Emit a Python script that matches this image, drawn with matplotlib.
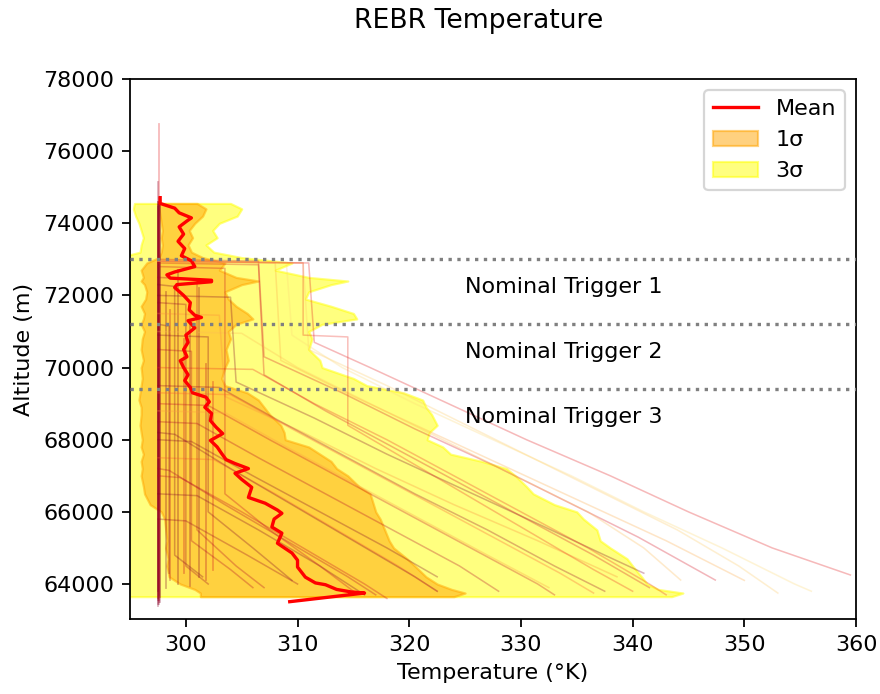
import numpy as np
import matplotlib
matplotlib.use("Agg")
import matplotlib.pyplot as plt

# ---------------- data ----------------
# Mean temperature profile
MEAN_ALT = [74710, 74550, 74420, 74290, 74150, 74064, 73900, 73700, 73500, 73300, 73100,
            72960, 72800, 72650, 72570, 72480, 72420, 72380, 72300, 72220, 72000, 71800,
            71600, 71450, 71390, 71300, 71100, 70900, 70700, 70500, 70300, 70190, 70000,
            69800, 69640, 69450, 69300, 69180, 69050, 68900, 68730, 68530, 68350, 68170,
            67980, 67800, 67620, 67450, 67340, 67200, 67070, 66900, 66680, 66400, 66240,
            66050, 65960, 65800, 65580, 65410, 65130, 64860, 64660, 64470, 64190, 64030,
            63980, 63850, 63780, 63750, 63510]
MEAN_T = [297.7, 297.7, 299.0, 299.4, 300.5, 300.1, 299.4, 299.8, 299.3, 299.9, 299.6,
          300.5, 300.8, 299.0, 298.3, 298.6, 302.3, 302.3, 299.2, 299.0, 299.8, 300.4,
          300.3, 300.8, 301.4, 300.2, 300.8, 300.0, 300.2, 299.8, 300.1, 299.5, 299.8,
          300.2, 299.9, 300.4, 300.6, 301.8, 302.1, 301.7, 302.3, 302.2, 302.7, 303.3,
          302.2, 302.8, 303.2, 303.6, 304.4, 305.6, 304.4, 305.0, 305.9, 305.6, 307.1,
          308.2, 308.6, 307.9, 307.7, 308.6, 308.2, 309.5, 310.0, 310.0, 310.7, 311.6,
          312.5, 313.5, 314.8, 316.0, 309.3]

# 1-sigma and 3-sigma envelopes
BAND_ALT = [74550, 74400, 74200, 74000, 73800, 73600, 73400, 73200, 73050, 72900,
            72700, 72500, 72400, 72300, 72100, 71900, 71700, 71500, 71350, 71200,
            71000, 70800, 70500, 70200, 70000, 69700, 69500, 69300, 69100, 68900,
            68700, 68400, 68200, 68000, 67800, 67600, 67400, 67200, 67000, 66700,
            66500, 66200, 66000, 65800, 65500, 65200, 65000, 64700, 64500, 64200,
            64000, 63850, 63750, 63650]
S1_LO = [297.6, 297.6, 297.7, 297.8, 297.9, 297.8, 297.9, 297.8, 297.6, 296.5,
         296.0, 296.2, 296.0, 296.3, 296.5, 296.4, 296.0, 296.3, 296.2, 296.0,
         296.3, 296.1, 296.0, 296.2, 296.0, 296.1, 296.0, 295.9, 295.8, 296.0,
         296.0, 295.9, 296.0, 296.1, 296.0, 296.2, 296.0, 296.1, 296.0, 296.2,
         296.3, 296.8, 297.8, 298.1, 298.2, 298.3, 298.2, 298.4, 298.3, 298.5,
         299.5, 300.8, 301.3, 301.3]
S1_HI = [301.0, 301.8, 301.5, 300.8, 300.3, 300.6, 300.2, 300.5, 301.5, 303.5,
         303.0, 304.5, 306.5, 305.0, 303.5, 303.8, 304.5, 305.5, 306.0, 304.5,
         303.8, 304.0, 303.6, 303.8, 303.5, 303.2, 303.5, 305.5, 306.5, 307.0,
         307.5, 308.5, 308.8, 308.9, 311.0, 312.0, 313.0, 313.5, 314.5, 315.5,
         316.5, 316.8, 317.0, 317.4, 317.8, 318.2, 318.6, 319.8, 320.5, 321.5,
         322.5, 323.8, 325.0, 324.0]
S3_LO = [295.4, 295.3, 295.5, 295.8, 296.0, 296.2, 296.0, 295.9, 294.0, 294.0,
         294.0, 294.0, 294.0, 294.0, 294.0, 294.0, 294.0, 294.0, 294.0, 294.0,
         294.0, 294.0, 294.0, 294.0, 294.0, 294.0, 294.0, 294.0, 294.0, 294.0,
         294.0, 294.0, 294.0, 294.0, 294.0, 294.0, 294.0, 294.0, 294.0, 294.0,
         294.0, 294.0, 294.0, 294.0, 294.0, 294.0, 294.0, 294.0, 294.0, 294.0,
         294.0, 294.0, 294.0, 294.0]
S3_HI = [304.0, 305.0, 304.6, 303.0, 302.4, 302.8, 301.8, 302.5, 305.0, 309.5,
         308.0, 311.0, 314.5, 313.0, 311.0, 310.7, 313.0, 315.0, 315.3, 312.2,
         311.0, 311.3, 311.0, 312.0, 312.2, 315.0, 316.2, 319.5, 321.2, 321.5,
         322.0, 322.5, 321.8, 321.6, 323.0, 323.7, 326.5, 328.7, 329.5, 330.5,
         331.1, 333.0, 335.0, 335.6, 336.8, 337.1, 338.0, 339.5, 340.0, 340.8,
         341.3, 342.3, 344.5, 343.5]

# Runs that never heat up (vertical traces)
CONST_T = [297.5, 297.6, 297.5, 297.7, 297.6, 297.5, 297.6, 297.5, 297.6, 297.7,
           297.5, 297.6, 298.2, 298.6, 299.3, 299.8, 300.4, 301.2, 301.8, 302.4]
CONST_TOP = [74600, 74550, 74500, 74650, 76750, 75150, 74600, 74450, 74700, 74500,
             74600, 74550, 72100, 71600, 72700, 70800, 71300, 72200, 70100, 69600]
CONST_BOT = [63400, 63450, 63550, 63500, 74600, 63600, 63700, 63800, 63500, 63650,
             63450, 63550, 63900, 64100, 64000, 64300, 63950, 64200, 64100, 64400]
CONST_SHADE = [1.0, 0.95, 0.9, 1.0, 0.75, 0.95, 0.85, 1.0, 0.9, 1.0,
               1.0, 0.95, 1.0, 0.9, 1.0, 0.85, 0.95, 1.0, 0.9, 0.8]

# Individual run traces (altitude, temperature)
RUN_ALTS = [
    [72950, 72900, 70700, 70000, 69000, 68000, 67000, 66000, 65000, 64250],
    [72950, 72900, 70500, 69500, 68500, 67500, 66500, 65500, 64500, 63750],
    [73000, 72950, 70300, 69300, 68300, 67300, 66300, 65300, 64110],
    [71000, 70950, 70000, 69000, 68000, 67000, 66000, 65000, 64110],
    [72000, 71950, 69600, 68600, 67600, 66600, 65600, 64800, 64300],
    [71500, 71450, 69200, 68200, 67200, 66200, 65200, 64200],
    [72950, 72900, 70900, 70000, 69000, 68000, 67000, 66000, 65000, 64000, 63800],
    [72950, 72900, 70200, 69200, 68200, 67200, 66200, 65200, 64100],
    [69500, 69450, 68500, 67500, 66500, 65500, 64500, 63800],
    [69000, 68950, 68000, 67000, 66000, 65000, 64000, 63700],
    [68500, 68450, 67500, 66500, 65500, 64500, 63800],
    [68000, 67950, 67000, 66000, 65000, 64200],
    [67500, 67450, 66500, 65500, 64500, 63800],
    [70000, 69950, 69000, 68000, 67000, 66000, 65000, 64000, 63700],
    [66500, 66450, 65500, 64500, 63700],
    [67000, 66950, 66000, 65000, 64000, 63600],
    [65800, 65750, 64800, 64000],
    [72900, 72850, 69800, 68800, 67800, 66800, 65800, 64800, 63900],
    [72300, 72250, 64800, 64200],
    [71800, 71750, 64500, 64000],
    [72500, 72450, 65500, 64500, 63900],
    [70900, 70850, 66000, 65000, 64100],
    [72800, 72750, 66500, 65500, 64500, 63800],
    [71200, 71150, 64300],
    [70500, 70450, 65200, 64400, 63900],
    [72950, 72900, 70900, 70850, 68400, 67400, 66400, 65400, 64400, 63800],
    [69300, 69250, 68300, 67300, 66300, 65300, 64300, 63750],
    [68800, 68750, 67800, 66800, 65800, 64800, 63900],
    [68200, 68150, 67200, 66200, 65200, 64200, 63800],
    [67200, 67150, 66200, 65200, 64200, 63700],
]
RUN_TEMPS = [
    [297.5, 311.0, 311.5, 316.5, 323.5, 330.5, 338.0, 345.0, 352.5, 359.5],
    [297.5, 310.5, 311.0, 318.0, 324.5, 331.0, 337.5, 344.0, 349.5, 353.0],
    [297.5, 306.5, 307.0, 314.0, 320.5, 327.5, 334.0, 340.5, 347.4],
    [297.5, 305.0, 310.0, 316.5, 323.0, 329.5, 336.0, 341.0, 344.3],
    [297.5, 304.0, 304.5, 311.5, 318.0, 325.0, 332.0, 337.5, 341.0],
    [297.5, 303.0, 303.5, 310.5, 317.0, 324.0, 331.5, 338.6],
    [297.5, 309.0, 309.5, 314.0, 320.5, 327.5, 334.5, 341.0, 348.0, 354.5, 356.0],
    [297.5, 308.0, 308.5, 315.0, 322.0, 329.0, 336.0, 343.0, 350.0],
    [297.5, 303.0, 308.5, 314.5, 320.5, 327.0, 333.0, 337.5],
    [297.5, 302.0, 307.5, 313.5, 319.5, 325.5, 331.5, 333.0],
    [297.5, 301.0, 306.5, 312.5, 318.5, 324.5, 328.0],
    [297.5, 300.5, 306.0, 312.0, 318.0, 322.5],
    [297.5, 302.5, 308.0, 313.5, 319.0, 322.5],
    [297.5, 306.0, 311.5, 318.0, 324.0, 330.0, 336.0, 341.5, 343.0],
    [297.5, 301.0, 306.5, 312.0, 316.0],
    [297.5, 299.5, 305.0, 310.5, 316.0, 318.0],
    [297.5, 300.0, 305.5, 310.0],
    [297.5, 306.5, 307.0, 312.5, 318.5, 324.5, 330.5, 336.5, 341.5],
    [297.5, 299.0, 299.0, 301.5],
    [297.5, 300.0, 300.0, 302.0],
    [297.5, 301.0, 301.0, 304.5, 307.0],
    [297.5, 302.0, 302.0, 306.0, 309.5],
    [297.5, 303.5, 303.5, 307.5, 312.0, 315.0],
    [297.5, 298.5, 298.5],
    [297.5, 300.5, 300.5, 304.0, 306.0],
    [297.5, 310.5, 310.5, 314.5, 314.5, 320.0, 325.5, 331.0, 336.5, 340.0],
    [297.5, 304.0, 309.5, 315.5, 321.5, 327.5, 333.5, 336.5],
    [297.5, 303.5, 309.0, 315.0, 321.0, 327.0, 332.5],
    [297.5, 299.0, 304.0, 309.5, 315.0, 320.5, 322.5],
    [297.5, 298.5, 303.5, 309.0, 314.5, 317.0],
]
RUN_SHADE = [0.75, 0.3, 0.8, 0.35, 1.0, 0.5, 0.25, 0.4, 0.95, 0.85, 0.9, 1.0, 0.6,
             0.7, 1.0, 0.85, 0.95, 0.8, 1.0, 0.95, 0.9, 1.0, 0.85, 1.0, 0.9, 0.7,
             0.6, 0.45, 1.0, 0.9]

TRIGGER_ALT = [73000, 71200, 69400]
TRIGGER_LABELS = ["Nominal Trigger 1", "Nominal Trigger 2", "Nominal Trigger 3"]

# ---------------- plot ----------------
plt.rcParams['font.family'] = ['DejaVu Sans']
fig = plt.figure(figsize=(880 / 160, 694 / 160), dpi=160)
ax = fig.add_axes([130 / 880, 1 - 619 / 694, (856 - 130) / 880, (619 - 79) / 694])

cmap = matplotlib.colormaps['YlOrRd']

ax.fill_betweenx(BAND_ALT, S3_LO, S3_HI, color='yellow', alpha=0.5, label='3σ', zorder=2)
ax.fill_betweenx(BAND_ALT, S1_LO, S1_HI, color='orange', alpha=0.5, label='1σ', zorder=2.5)

for t, top, bot, s in zip(CONST_T, CONST_TOP, CONST_BOT, CONST_SHADE):
    ax.plot([t, t], [top, bot], color=cmap(s), alpha=0.3, lw=0.8, zorder=3)

for alts, temps, s in zip(RUN_ALTS, RUN_TEMPS, RUN_SHADE):
    ax.plot(temps, alts, color=cmap(s), alpha=0.3, lw=0.7, zorder=3)

ax.plot(MEAN_T, MEAN_ALT, color='red', lw=1.5, label='Mean', zorder=4)

for alt, lab in zip(TRIGGER_ALT, TRIGGER_LABELS):
    ax.axhline(alt, color='gray', ls=':', lw=1.5, zorder=5)
    ax.text(325, alt - 780, lab, ha='left', va='center', fontsize=10, zorder=6)

ax.set_xlim(295, 360)
ax.set_ylim(63030, 78000)
ax.set_xlabel('Temperature (°K)')
ax.set_ylabel('Altitude (m)')

h, l = ax.get_legend_handles_labels()
order = [l.index('Mean'), l.index('1σ'), l.index('3σ')]
ax.legend([h[i] for i in order], [l[i] for i in order], loc='upper right')

fig.text(479 / 880, 1 - 28.3 / 694, 'REBR Temperature', ha='center', va='baseline', fontsize=12)

fig.savefig('out.png', dpi=160)
